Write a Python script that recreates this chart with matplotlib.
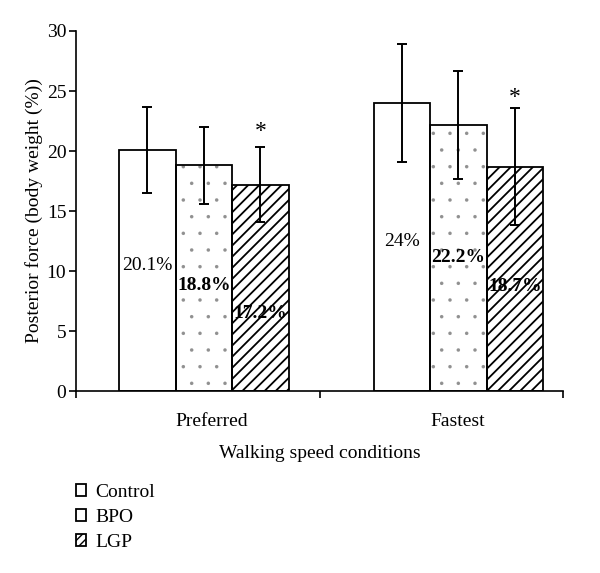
import matplotlib
matplotlib.use("Agg")
import matplotlib.pyplot as plt
from matplotlib.patches import Patch
import numpy as np

plt.rcParams['font.family'] = ['Liberation Serif', 'DejaVu Serif']

categories = ["Preferred", "Fastest"]
series = ["Control", "BPO", "LGP"]
values = {"Control": [20.1, 24.0], "BPO": [18.8, 22.2], "LGP": [17.2, 18.7]}
errors = {"Control": [3.6, 4.9], "BPO": [3.2, 4.5], "LGP": [3.1, 4.9]}
labels = {"Control": ["20.1%", "24%"], "BPO": ["18.8%", "22.2%"], "LGP": ["17.2%", "18.7%"]}
label_y = {"Control": [10.5, 12.5], "BPO": [8.8, 11.1], "LGP": [6.5, 8.75]}
star_y = [21.6, 24.5]

hatches = {"Control": None, "BPO": ".", "LGP": "///"}
hatch_colors = {"Control": "white", "BPO": "#909090", "LGP": "black"}
hatch_lw = {"Control": 1.0, "BPO": 0.1, "LGP": 1.3}
weights = {"Control": "normal", "BPO": "bold", "LGP": "bold"}

fig = plt.figure(figsize=(6.0, 5.73), dpi=100)
ax = fig.add_axes([0.1267, 0.3176, 0.8116, 0.6283])

group_centers = np.array([0.525, 1.57])
width = 0.232
offsets = [-width, 0, width]
fs = 14

for s, off in zip(series, offsets):
    x = group_centers + off
    if hatches[s]:
        with plt.rc_context({'hatch.linewidth': hatch_lw[s]}):
            ax.bar(x, values[s], width, color="white", edgecolor=hatch_colors[s],
                   hatch=hatches[s], linewidth=0, zorder=2)
    ax.bar(x, values[s], width, color="none", edgecolor="black", linewidth=1.3, zorder=3)
    ax.errorbar(x, values[s], yerr=errors[s], fmt="none", ecolor="black",
                elinewidth=1.4, capsize=3.5, capthick=1.4, zorder=4)
    for xi, yi, t in zip(x, label_y[s], labels[s]):
        ax.text(xi, yi, t, ha="center", va="center", fontsize=fs,
                fontweight=weights[s], zorder=5)

for xi, yi in zip(group_centers + offsets[2], star_y):
    ax.text(xi, yi, "*", ha="center", va="center", fontsize=fs + 3, zorder=5)

ax.set_xlim(0, 2)
ax.set_ylim(0, 30)
ax.set_yticks(np.arange(0, 31, 5))
ax.tick_params(axis="y", direction="out", length=5, width=1.2, labelsize=fs, pad=2)
ax.set_xticks([0, 1, 2])
ax.set_xticklabels([])
ax.tick_params(axis="x", direction="out", length=5, width=1.2)
for cat, lx in zip(categories, [0.557, 1.566]):
    ax.text(lx, -0.06, cat, transform=ax.get_xaxis_transform(), ha="center",
            va="top", fontsize=fs)
ax.text(0.5, -0.15, "Walking speed conditions", transform=ax.transAxes,
        ha="center", va="top", fontsize=fs)
ax.set_ylabel("Posterior force (body weight (%))", fontsize=fs, labelpad=3)

for sp in ["top", "right"]:
    ax.spines[sp].set_visible(False)
for sp in ["left", "bottom"]:
    ax.spines[sp].set_linewidth(1.2)

with plt.rc_context({'hatch.linewidth': 0.8}):
    handles = [
        Patch(facecolor="white", edgecolor="black", linewidth=1.3),
        Patch(facecolor="white", edgecolor="black", linewidth=1.3),
        Patch(facecolor="white", edgecolor="black", linewidth=1.3, hatch="////"),
    ]
fig.legend(handles, series, loc="upper left", bbox_to_anchor=(0.11, 0.173),
           frameon=False, fontsize=fs, handlelength=0.55, handleheight=0.55,
           handletextpad=0.45, labelspacing=0.42, borderpad=0)

fig.savefig("out.png", dpi=100)
